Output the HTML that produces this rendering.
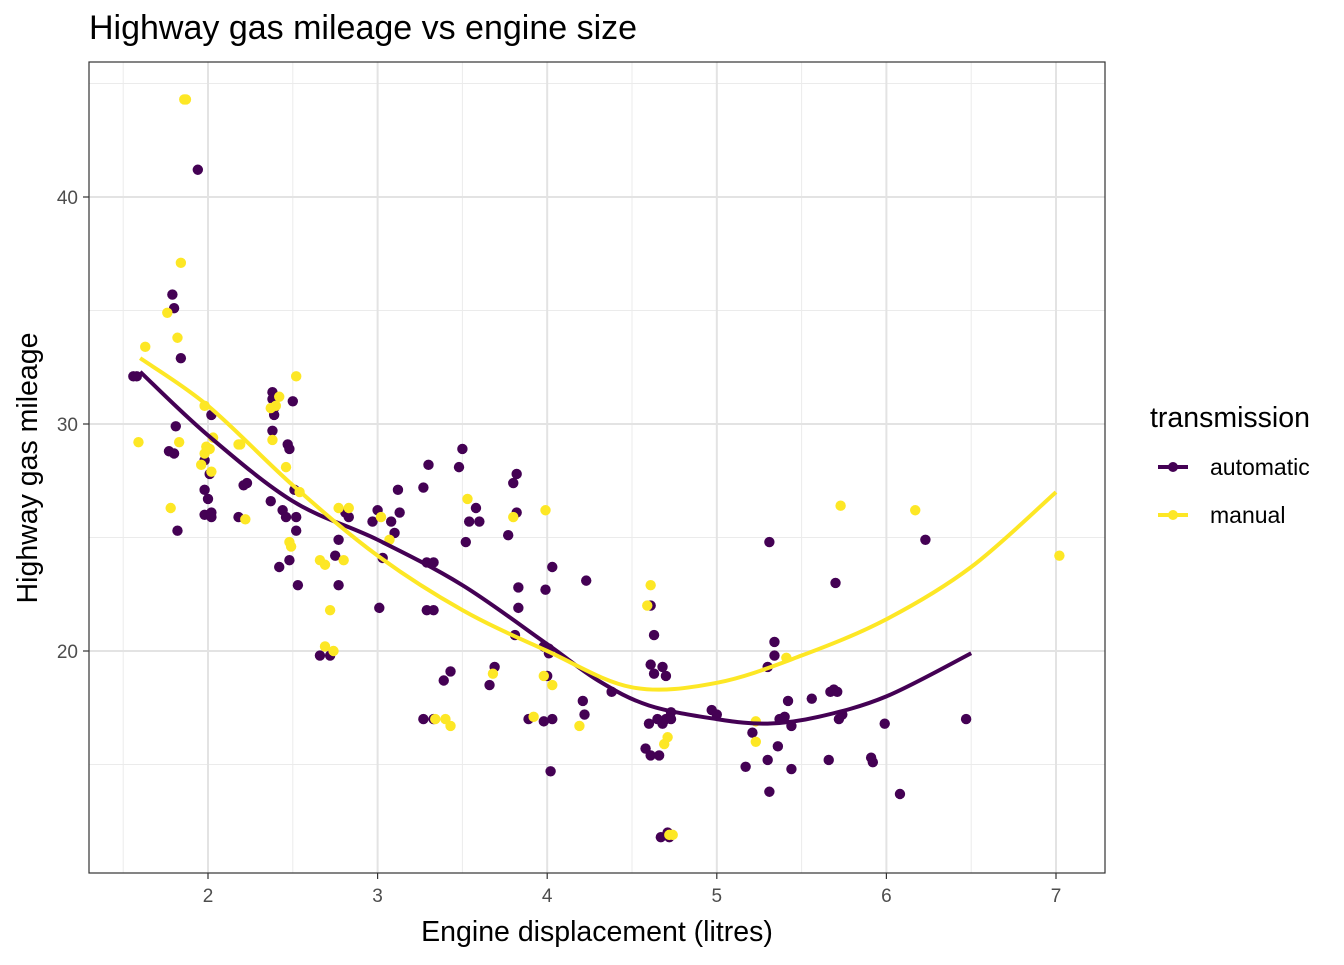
<!DOCTYPE html>
<html><head><meta charset="utf-8"><style>
body{margin:0;background:#fff;font-family:"Liberation Sans",Arial,sans-serif}
svg text{font-family:"Liberation Sans",Arial,sans-serif}
</style></head><body>
<svg id="chart" width="1344" height="960" viewBox="0 0 1344 960">
<rect width="1344" height="960" fill="#fff"/>
<text x="89" y="39" font-size="34" fill="#000">Highway gas mileage vs engine size</text>
<g id="grid"></g>
<g id="smooth"></g>
<g id="pts"></g>
<rect x="89" y="62" width="1016" height="811" fill="none" stroke="#333" stroke-width="1.2"/>
<g id="axes"></g>
<text x="597" y="941" font-size="28.5" text-anchor="middle">Engine displacement (litres)</text>
<text transform="translate(37,468) rotate(-90)" font-size="28.5" text-anchor="middle">Highway gas mileage</text>
<g>
<text x="1150" y="427" font-size="28.5">transmission</text>
<g>
<line x1="1158" y1="467" x2="1188" y2="467" stroke="#440154" stroke-width="4"/><circle cx="1173" cy="467" r="5" fill="#440154"/>
<text x="1210" y="475" font-size="23">automatic</text></g>
<g>
<line x1="1158" y1="515" x2="1188" y2="515" stroke="#FDE725" stroke-width="4"/><circle cx="1173" cy="515" r="5" fill="#FDE725"/>
<text x="1210" y="523" font-size="23">manual</text></g>
</g>
</svg>
<script>
const xTicks=[2,3,4,5,6,7];
const yTicks=[20,30,40];
const xMinor=[1.5,2.5,3.5,4.5,5.5,6.5];
const yMinor=[15,25,35,45];
const autoX=[1.56,1.58,1.94,1.79,1.8,1.84,1.77,1.8,1.81,1.82,1.98,1.98,2.0,2.01,1.98,2.02,2.02,2.02,2.18,2.21,2.23,2.37,2.38,2.38,2.38,2.39,2.39,2.47,2.48,2.5,2.44,2.46,2.42,2.48,2.51,2.52,2.53,2.52,2.66,2.72,2.75,2.77,2.77,2.81,2.83,2.97,3.0,3.01,3.03,3.08,3.1,3.12,3.13,3.27,3.27,3.3,3.29,3.33,3.29,3.33,3.33,3.39,3.43,3.48,3.5,3.52,3.54,3.58,3.6,3.66,3.69,3.77,3.8,3.82,3.81,3.83,3.82,3.83,3.89,3.98,3.98,3.99,4.0,4.01,4.03,4.02,4.03,4.01,4.21,4.22,4.23,4.38,4.58,4.6,4.61,4.61,4.63,4.61,4.63,4.66,4.67,4.68,4.68,4.7,4.7,4.71,4.72,4.73,4.73,4.65,4.97,5.0,5.17,5.21,5.31,5.3,5.31,5.3,5.34,5.34,5.36,5.37,5.4,5.42,5.44,5.44,5.56,5.66,5.67,5.69,5.7,5.71,5.72,5.74,5.91,5.92,5.99,6.08,6.23,6.47];
const autoY=[32.1,32.1,41.2,35.7,35.1,32.9,28.8,28.7,29.9,25.3,28.4,27.1,26.7,27.8,26.0,26.1,25.9,30.4,25.9,27.3,27.4,26.6,31.4,31.1,29.7,30.7,30.4,29.1,28.9,31.0,26.2,25.9,23.7,24.0,27.1,25.3,22.9,25.9,19.8,19.8,24.2,22.9,24.9,26.1,25.9,25.7,26.2,21.9,24.1,25.7,25.2,27.1,26.1,17.0,27.2,28.2,23.9,23.9,21.8,21.8,17.0,18.7,19.1,28.1,28.9,24.8,25.7,26.3,25.7,18.5,19.3,25.1,27.4,27.8,20.7,21.9,26.1,22.8,17.0,20.2,16.9,22.7,18.9,20.1,17.0,14.7,23.7,19.9,17.8,17.2,23.1,18.2,15.7,16.8,15.4,22.0,20.7,19.4,19.0,15.4,11.8,16.8,19.3,18.9,17.0,12.0,11.8,17.3,17.0,17.0,17.4,17.2,14.9,16.4,24.8,15.2,13.8,19.3,20.4,19.8,15.8,17.0,17.1,17.8,16.7,14.8,17.9,15.2,18.2,18.3,23.0,18.2,17.0,17.2,15.3,15.1,16.8,13.7,24.9,17.0];
const manX=[1.87,1.86,1.84,1.76,1.82,1.63,1.59,1.78,1.83,1.98,1.96,1.98,1.99,2.03,2.01,2.02,2.18,2.19,2.22,2.37,2.4,2.42,2.38,2.46,2.48,2.49,2.52,2.54,2.66,2.69,2.72,2.69,2.74,2.77,2.83,2.8,3.02,3.07,3.34,3.4,3.43,3.53,3.8,3.92,3.68,3.99,3.98,4.03,4.19,4.61,4.59,4.69,4.71,4.72,4.74,5.23,5.23,5.41,5.73,6.17,7.02];
const manY=[44.3,44.3,37.1,34.9,33.8,33.4,29.2,26.3,29.2,30.8,28.2,28.7,29.0,29.4,28.9,27.9,29.1,29.1,25.8,30.7,30.8,31.2,29.3,28.1,24.8,24.6,32.1,27.0,24.0,23.8,21.8,20.2,20.0,26.3,26.3,24.0,25.9,24.9,17.0,17.0,16.7,26.7,25.9,17.1,19.0,26.2,18.9,18.5,16.7,22.9,22.0,15.9,16.2,11.9,11.9,16.0,16.9,19.7,26.4,26.2,24.2];
const fitAutoX=[1.6,2.0,2.5,3.0,3.5,4.0,4.3,4.6,5.0,5.3,5.6,6.0,6.5];
const fitAutoY=[32.3,29.5,26.6,24.9,22.9,20.3,18.7,17.6,17.0,16.8,17.1,18.0,19.9];
const fitManX=[1.6,2.0,2.5,3.0,3.5,4.0,4.5,5.0,5.5,6.0,6.5,7.0];
const fitManY=[32.9,30.8,27.3,24.2,21.8,20.0,18.4,18.6,19.8,21.4,23.7,27.0];

const NS="http://www.w3.org/2000/svg";
const sx=v=>208+(v-2)*169.6;
const sy=v=>651-(v-20)*22.7;
function mk(tag,attrs,parent){const e=document.createElementNS(NS,tag);for(const k in attrs)e.setAttribute(k,attrs[k]);parent.appendChild(e);return e;}
const grid=document.getElementById('grid'),axes=document.getElementById('axes'),pts=document.getElementById('pts'),sm=document.getElementById('smooth');
xMinor.forEach(v=>{const l=mk('line',{x1:sx(v),x2:sx(v),y1:62,y2:873,stroke:'#ebebeb','stroke-width':1},grid);

});
yMinor.forEach(v=>{const l=mk('line',{x1:89,x2:1105,y1:sy(v),y2:sy(v),stroke:'#ebebeb','stroke-width':1},grid);

});
xTicks.forEach(v=>{const l=mk('line',{x1:sx(v),x2:sx(v),y1:62,y2:873,stroke:'#e3e3e3','stroke-width':2},grid);


mk('line',{x1:sx(v),x2:sx(v),y1:873,y2:879,stroke:'#333','stroke-width':1.2},axes);
const t=mk('text',{x:sx(v),y:902,'font-size':19,fill:'#4d4d4d','text-anchor':'middle'},axes);t.textContent=v;

});
yTicks.forEach(v=>{const l=mk('line',{x1:89,x2:1105,y1:sy(v),y2:sy(v),stroke:'#e3e3e3','stroke-width':2},grid);


mk('line',{x1:83,x2:89,y1:sy(v),y2:sy(v),stroke:'#333','stroke-width':1.2},axes);
const t=mk('text',{x:78,y:sy(v)+7,'font-size':19,fill:'#4d4d4d','text-anchor':'end'},axes);t.textContent=v;

});
function drawPts(X,Y,col,name){X.forEach((x,i)=>{const c=mk('circle',{cx:sx(x),cy:sy(Y[i]),r:5.2,fill:col},pts);

});}
drawPts(autoX,autoY,'#440154','point-automatic');
drawPts(manX,manY,'#FDE725','point-manual');
function path(X,Y){const p=X.map((x,i)=>[sx(x),sy(Y[i])]);let d='M'+p[0][0]+','+p[0][1];
for(let i=0;i<p.length-1;i++){const p0=p[i-1]||p[i],p1=p[i],p2=p[i+1],p3=p[i+2]||p2;
d+=' C'+(p1[0]+(p2[0]-p0[0])/6)+','+(p1[1]+(p2[1]-p0[1])/6)+' '+(p2[0]-(p3[0]-p1[0])/6)+','+(p2[1]-(p3[1]-p1[1])/6)+' '+p2[0]+','+p2[1];}return d;}
const la=mk('path',{d:path(fitAutoX,fitAutoY),fill:'none',stroke:'#440154','stroke-width':4},sm);


const lm=mk('path',{d:path(fitManX,fitManY),fill:'none',stroke:'#FDE725','stroke-width':4},sm);


pts.parentNode.insertBefore(sm,pts.nextSibling);
</script>
</body></html>
